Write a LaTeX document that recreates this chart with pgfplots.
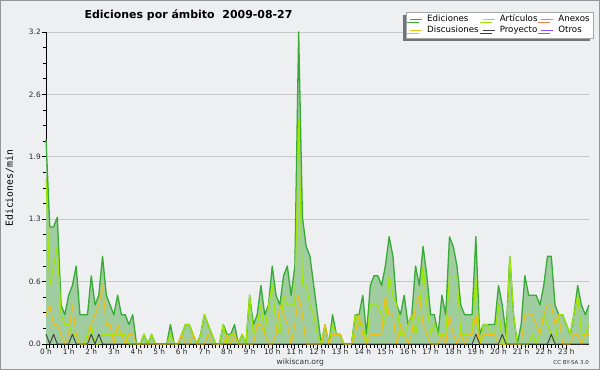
\documentclass[border=0pt]{standalone}
\usepackage{fontspec}
\setmainfont{DejaVu Sans}
\newfontfamily\monofont{DejaVu Sans Mono}
\usepackage{pgfplots}
\pgfplotsset{compat=1.18}
\usepackage{pgfplotstable}
\usetikzlibrary{shadows}
\definecolor{bg}{RGB}{238,239,241}
\definecolor{bordercol}{RGB}{150,150,150}
\definecolor{gridcol}{RGB}{200,200,200}
\definecolor{edline}{RGB}{55,170,55}
\definecolor{edfill}{RGB}{160,205,160}
\definecolor{artcol}{RGB}{160,230,0}
\definecolor{disccol}{RGB}{240,190,20}
\definecolor{proycol}{RGB}{60,60,60}
\definecolor{anexcol}{RGB}{240,128,80}
\definecolor{otroscol}{RGB}{150,80,230}
\pgfplotstableread{
i ed art disc proy
0 2.1 1.7 0.3 0.1
1 1.2 0.6 0.4 0
2 1.2 0.8 0.2 0.1
3 1.3 1.0 0.2 0
4 0.4 0.3 0.1 0
5 0.3 0.2 0.0 0
6 0.5 0.2 0.1 0
7 0.6 0.1 0.4 0.1
8 0.8 0.1 0.1 0
9 0.3 0.0 0 0
10 0.3 0.0 0 0
11 0.3 0.1 0 0
12 0.7 0.2 0.2 0.1
13 0.4 0.0 0.3 0
14 0.5 0.0 0.4 0.1
15 0.9 0.1 0.6 0
16 0.5 0.1 0.2 0
17 0.4 0.1 0.2 0
18 0.3 0.1 0.0 0
19 0.5 0.1 0.2 0
20 0.3 0.1 0.1 0
21 0.3 0.1 0 0
22 0.2 0.0 0.1 0
23 0.3 0.0 0.1 0
24 0 0 0 0
25 0 0 0 0
26 0.1 0.1 0 0
27 0 0 0 0
28 0.1 0.1 0 0
29 0 0 0 0
30 0 0 0 0
31 0 0 0 0
32 0 0 0 0
33 0.2 0.1 0 0
34 0 0 0 0
35 0 0 0 0
36 0.1 0.1 0.1 0
37 0.2 0.2 0 0
38 0.2 0.2 0 0
39 0.1 0.1 0.1 0
40 0 0 0 0
41 0.1 0.1 0 0
42 0.3 0.3 0 0
43 0.2 0.2 0.1 0
44 0.1 0.1 0 0
45 0 0 0 0
46 0 0 0 0
47 0.2 0.2 0 0
48 0.1 0.0 0.1 0
49 0.1 0.1 0 0
50 0.2 0.1 0.1 0
51 0 0 0 0
52 0.1 0.1 0 0
53 0 0 0 0
54 0.5 0.5 0 0
55 0.2 0.1 0 0
56 0.3 0.2 0.2 0
57 0.6 0.4 0.2 0
58 0.3 0.1 0.1 0
59 0.4 0.4 0 0
60 0.8 0.6 0 0
61 0.5 0.2 0.1 0
62 0.4 0.1 0.4 0
63 0.7 0.5 0.3 0
64 0.8 0.4 0.2 0
65 0.5 0.4 0 0
66 0.8 0.4 0.2 0
67 3.2 2.3 0.5 0
68 1.3 0.6 0.3 0
69 1.0 0.6 0 0
70 0.9 0.4 0 0
71 0.6 0.3 0 0
72 0.3 0.1 0 0
73 0 0 0 0
74 0.2 0.2 0.2 0
75 0 0 0 0
76 0.3 0.2 0.1 0
77 0.1 0.1 0.1 0
78 0.1 0.1 0.1 0
79 0 0 0 0
80 0 0 0 0
81 0 0 0 0
82 0.3 0.3 0.1 0
83 0.3 0.2 0.3 0
84 0.5 0.2 0.1 0
85 0.1 0.0 0 0
86 0.6 0.4 0.1 0
87 0.7 0.4 0.1 0
88 0.7 0.4 0.1 0
89 0.6 0.3 0.1 0
90 0.8 0.2 0.5 0
91 1.1 0.7 0.3 0
92 0.9 0.5 0.3 0
93 0.4 0.4 0 0
94 0.3 0.1 0.2 0
95 0.5 0.1 0.1 0
96 0.2 0.2 0 0
97 0.3 0.3 0.1 0
98 0.8 0.1 0.4 0
99 0.6 0.3 0.5 0
100 1.0 0.8 0.2 0
101 0.7 0.4 0.1 0
102 0.3 0.1 0 0
103 0.3 0.2 0 0
104 0.1 0.1 0 0
105 0.5 0.1 0.1 0
106 0.3 0.1 0 0
107 1.1 0.7 0.3 0
108 1.0 0.7 0.1 0
109 0.8 0.7 0 0
110 0.4 0.1 0.1 0
111 0.3 0.1 0 0
112 0.3 0.1 0.1 0
113 0.3 0.1 0.1 0
114 1.1 0.7 0.3 0.1
115 0.1 0.0 0 0
116 0.2 0.2 0.1 0
117 0.2 0.2 0.1 0
118 0.2 0.1 0.1 0
119 0.2 0.1 0.1 0
120 0.6 0.4 0 0
121 0.4 0.0 0 0.1
122 0.1 0.0 0 0
123 0.9 0.9 0 0
124 0.3 0.3 0 0
125 0 0 0 0
126 0.2 0.0 0 0
127 0.7 0.0 0.3 0
128 0.5 0.0 0.3 0
129 0.5 0.1 0.3 0
130 0.5 0.0 0.2 0
131 0.4 0.1 0.1 0
132 0.6 0.3 0.3 0
133 0.9 0.2 0.4 0
134 0.9 0.1 0.4 0.1
135 0.4 0.0 0.2 0
136 0.3 0.3 0.3 0
137 0.3 0.3 0 0
138 0.2 0.2 0 0
139 0.1 0.1 0 0
140 0.3 0.3 0.1 0
141 0.6 0.5 0.1 0
142 0.4 0.1 0 0
143 0.3 0.1 0.1 0
144 0.4 0.2 0.1 0
}\data
\begin{document}
\begin{tikzpicture}[x=1bp,y=1bp]
\fill[bg] (0,0) rectangle (600,370);
\draw[bordercol, line width=1bp] (0.5,0.5) rectangle (599.5,369.5);
\begin{axis}[
  at={(46bp,26bp)}, anchor=south west,
  scale only axis, width=543bp, height=312bp,
  xmin=0, xmax=24, ymin=0, ymax=3.2,
  clip=false,
  axis lines*=left,
  axis line style={black, line width=0.9bp},
  tick align=outside, tick pos=left,
  xtick={0,...,23},
  xticklabels={0 h,1 h,2 h,3 h,4 h,5 h,6 h,7 h,8 h,9 h,10 h,11 h,12 h,13 h,14 h,15 h,16 h,17 h,18 h,19 h,20 h,21 h,22 h,23 h},
  minor x tick num=5,
  ytick={0,0.64,1.28,1.92,2.56,3.2},
  yticklabels={0.0,0.6,1.3,1.9,2.6,3.2},
  minor y tick num=3,
  major tick length=4.5bp, minor tick length=3.5bp,
  every tick/.style={black, line width=0.8bp},
  ymajorgrids, major grid style={draw=gridcol, line width=0.8bp},
  ticklabel style={font=\fontsize{7.4}{7.6}\selectfont, text=black!85, inner sep=0.6bp},
  legend columns=3,
  legend cell align=left,
  legend style={at={(1.0074,1.065)}, anchor=north east, fill=white, draw=gray!70, line width=0.4bp,
    inner sep=3.2bp, font=\fontsize{8.7}{9}\selectfont, row sep=2.5bp,
    nodes={inner sep=0pt, text height=6.5bp, text depth=2bp},
    /tikz/every odd column/.append style={column sep=4.5bp},
    /tikz/every even column/.append style={column sep=3.5bp},
    drop shadow={shadow xshift=-3bp, shadow yshift=-3bp, fill=black!55, opacity=1}},
  legend image code/.code={\draw[#1] (0bp,0bp) -- (12bp,0bp);},
]
\addplot[draw=none, fill=edfill, forget plot] table[x expr=\thisrow{i}/6, y=ed]{\data} \closedcycle;
\addplot[edline, line width=1.3bp, line join=round] table[x expr=\thisrow{i}/6, y=ed]{\data};
\addplot[artcol, line width=1.1bp, line join=round] table[x expr=\thisrow{i}/6, y=art]{\data};
\addlegendimage{anexcol, line width=0.8bp}
\addplot[disccol, line width=1bp, line join=round] table[x expr=\thisrow{i}/6, y=disc]{\data};
\addplot[proycol, line width=0.9bp, line join=round] table[x expr=\thisrow{i}/6, y=proy]{\data};
\addlegendimage{otroscol, line width=0.8bp}
\legend{Ediciones,Artículos,Anexos,Discusiones,Proyecto,Otros}
\end{axis}
\node[anchor=base, font=\bfseries\fontsize{11}{12}\selectfont] at (188.5,351.7) {Ediciones por ámbito\ \ 2009-08-27};
\node[rotate=90, font=\monofont\fontsize{9.8}{10}\selectfont] at (9.5,181.7) {Ediciones/min};
\node[anchor=base, inner sep=0pt, font=\fontsize{7.6}{8}\selectfont, text=black!80] at (300.3,5.2) {wikiscan.org};
\node[anchor=base east, inner sep=0pt, font=\fontsize{5.5}{6}\selectfont, text=black!80] at (589,6) {CC BY-SA 3.0};
\end{tikzpicture}
\end{document}
